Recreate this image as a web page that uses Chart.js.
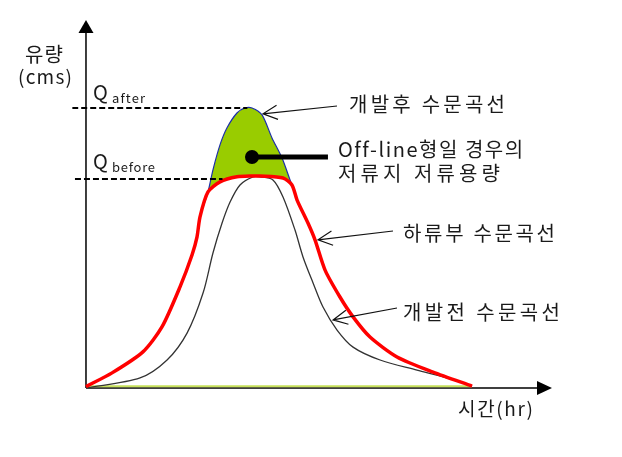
<!DOCTYPE html>
<html>
<head>
<meta charset="utf-8">
<script src="https://cdn.jsdelivr.net/npm/chart.js@4.4.0/dist/chart.umd.min.js"></script>
<style>
  html, body { margin: 0; background: #fff; }
  canvas { display: block; }
</style>
</head>
<body>
<canvas id="hydroChart" width="622" height="457"></canvas>
<script>
// 개발전 수문곡선 (before development)
const beforeT = [0, 3.92, 5.88, 7.33, 8.49, 9.21, 9.87, 10.45, 11.17, 12.11, 12.62, 13.56, 14.29, 15.16, 15.74, 16.47, 17.19, 18.21, 19.37, 21.33, 24.01, 26.19, 28];
const beforeQ = [0, 3.6, 10.0, 19.6, 33.9, 48.2, 58.9, 66.4, 72.5, 75.4, 75.4, 74.3, 68.2, 56.4, 46.8, 37.5, 28.9, 20.7, 14.6, 10.0, 6.4, 3.6, 0.7];

// 하류부 수문곡선 (downstream)
const downT = [0, 1.89, 4.13, 5.51, 6.82, 7.69, 8.05, 8.27, 8.85, 9.72, 10.95, 12.11, 12.62, 14.29, 14.94, 15.31, 16.10, 16.61, 17.34, 18.42, 19.37, 20.60, 22.56, 25.17, 28];
const downQ = [0.5, 5.4, 12.9, 21.8, 36.1, 47.5, 53.9, 61.1, 70.0, 73.6, 75.4, 75.7, 75.7, 75.0, 72.5, 67.1, 58.9, 52.9, 42.1, 32.5, 25.4, 18.2, 11.1, 5.7, 0.7];

// 개발후 수문곡선 (after development)
const afterT = [0, 1.89, 4.13, 5.51, 6.82, 7.69, 8.05, 8.27, 8.85, 9.21, 9.72, 10.23, 10.95, 11.53, 12.04, 12.77, 13.49, 14.22, 14.80, 14.94, 15.31, 16.10, 16.61, 17.34, 18.42, 19.37, 20.60, 22.56, 25.17, 28];
const afterQ = [0.5, 5.4, 12.9, 21.8, 36.1, 47.5, 53.9, 61.1, 70.0, 77.9, 86.8, 92.9, 98.2, 100, 100, 97.5, 89.3, 82.1, 74.3, 72.5, 67.1, 58.9, 52.9, 42.1, 32.5, 25.4, 18.2, 11.1, 5.7, 0.7];

const baseT = [0, 28];
const baseQ = [0.6, 0.6];

// Q_after / Q_before guide lines
const qAfter = 100;
const qBefore = 74.6;
const qAfterSpan = [-1, 11.7];
const qBeforeSpan = [-0.8, 9.9];

const fontFamily = '"Noto Sans CJK KR", "Noto Sans", sans-serif';
const textColor = "#1a1a1a";
const greenFill = "#99cc00";

const pts = (xs, ys) => xs.map((x, i) => ({ x: x, y: ys[i] }));

function fitText(ctx, text, left, mid, width, size) {
  ctx.font = size + "px " + fontFamily;
  ctx.letterSpacing = "0px";
  const w = ctx.measureText(text).width;
  const n = [...text].length;
  const sp = n > 1 ? (width - w) / (n - 1) : 0;
  ctx.letterSpacing = sp + "px";
  ctx.textBaseline = "middle";
  ctx.textAlign = "left";
  ctx.fillStyle = textColor;
  ctx.fillText(text, left, mid);
  ctx.letterSpacing = "0px";
}

function openArrow(ctx, fx, fy, tx, ty) {
  const a = Math.atan2(fy - ty, fx - tx);
  const len = 16, spread = 0.46;
  ctx.beginPath();
  ctx.moveTo(fx, fy);
  ctx.lineTo(tx, ty);
  ctx.moveTo(tx + len * Math.cos(a - spread), ty + len * Math.sin(a - spread));
  ctx.lineTo(tx, ty);
  ctx.lineTo(tx + len * Math.cos(a + spread), ty + len * Math.sin(a + spread));
  ctx.stroke();
}

const decorPlugin = {
  id: "decor",
  beforeDatasetsDraw(chart) {
    const { ctx, chartArea } = chart;
    const { x, y } = chart.scales;
    const x0 = x.getPixelForValue(0);
    const y0 = y.getPixelForValue(0);
    ctx.save();
    ctx.strokeStyle = "#000";
    ctx.fillStyle = "#000";
    ctx.lineWidth = 1.5;
    ctx.beginPath();
    ctx.moveTo(x0, y0);
    ctx.lineTo(x0, chartArea.top + 10);
    ctx.moveTo(x0, y0);
    ctx.lineTo(chartArea.right - 10, y0);
    ctx.stroke();
    // arrow heads
    ctx.beginPath();
    ctx.moveTo(x0, chartArea.top);
    ctx.lineTo(x0 - 7.5, chartArea.top + 13);
    ctx.lineTo(x0 + 7.5, chartArea.top + 13);
    ctx.closePath();
    ctx.fill();
    ctx.beginPath();
    ctx.moveTo(chartArea.right, y0);
    ctx.lineTo(chartArea.right - 15, y0 - 7);
    ctx.lineTo(chartArea.right - 15, y0 + 7);
    ctx.closePath();
    ctx.fill();
    ctx.restore();
  },
  afterDatasetsDraw(chart) {
    const { ctx } = chart;
    const { x, y } = chart.scales;
    ctx.save();

    // storage marker: dot + thick leader
    const dx = x.getPixelForValue(12.04), dy = y.getPixelForValue(82.5);
    ctx.fillStyle = "#000";
    ctx.strokeStyle = "#000";
    ctx.lineWidth = 5;
    ctx.beginPath();
    ctx.moveTo(dx, dy);
    ctx.lineTo(x.getPixelForValue(17.55), dy);
    ctx.stroke();
    ctx.beginPath();
    ctx.arc(dx, dy, 7, 0, Math.PI * 2);
    ctx.fill();

    // pointer arrows
    ctx.lineWidth = 1.2;
    ctx.strokeStyle = "#111";
    openArrow(ctx, 337, 106, x.getPixelForValue(12.84), y.getPixelForValue(97.9));
    openArrow(ctx, 393, 231, x.getPixelForValue(16.83), y.getPixelForValue(52.9));
    openArrow(ctx, 397, 308, x.getPixelForValue(17.92), y.getPixelForValue(24.3));

    // texts
    fitText(ctx, "유량", 25, 54, 38, 20);
    fitText(ctx, "(cms)", 18, 77, 54, 19);
    fitText(ctx, "Q", 93, 92, 17, 20);
    fitText(ctx, "after", 112, 98, 33, 13);
    fitText(ctx, "Q", 93, 161, 17, 20);
    fitText(ctx, "before", 112, 167, 43, 13);
    fitText(ctx, "개발후 수문곡선", 349, 104, 156, 20);
    fitText(ctx, "Off-line형일 경우의", 338, 149, 185, 20);
    fitText(ctx, "저류지 저류용량", 338, 173, 162, 20);
    fitText(ctx, "하류부 수문곡선", 403, 233, 152, 20);
    fitText(ctx, "개발전 수문곡선", 403, 312, 157, 20);
    fitText(ctx, "시간(hr)", 458, 409, 75, 19);
    ctx.restore();
  },
};

const hydroChart = new Chart(document.getElementById("hydroChart"), {
  type: "line",
  plugins: [decorPlugin],
  data: {
    datasets: [
      {
        label: "base",
        data: pts(baseT, baseQ),
        borderColor: "#c6e05a",
        borderWidth: 2,
        pointRadius: 0,
        order: 6,
      },
      {
        label: "개발후 수문곡선",
        data: pts(afterT, afterQ),
        borderColor: "#1c2fa8",
        borderWidth: 1.2,
        pointRadius: 0,
        tension: 0.25,
        fill: { target: 2 },
        backgroundColor: greenFill,
        order: 5,
      },
      {
        label: "하류부 수문곡선",
        data: pts(downT, downQ),
        borderColor: "#ff0000",
        borderWidth: 3.5,
        pointRadius: 0,
        tension: 0.25,
        order: 1,
      },
      {
        label: "개발전 수문곡선",
        data: pts(beforeT, beforeQ),
        borderColor: "#333333",
        borderWidth: 1.3,
        pointRadius: 0,
        tension: 0.3,
        order: 3,
      },
      {
        label: "Q after",
        data: pts(qAfterSpan, [qAfter, qAfter]),
        borderColor: "#000",
        borderWidth: 2,
        borderDash: [6, 3],
        pointRadius: 0,
        order: 0,
      },
      {
        label: "Q before",
        data: pts(qBeforeSpan, [qBefore, qBefore]),
        borderColor: "#000",
        borderWidth: 2,
        borderDash: [6, 3],
        pointRadius: 0,
        order: 0,
      },
    ],
  },
  options: {
    responsive: false,
    maintainAspectRatio: false,
    animation: false,
    layout: {
      padding: { left: 72.2, right: 70, top: 20, bottom: 69 },
    },
    scales: {
      x: { type: "linear", min: -1, max: 33.8, display: false },
      y: { type: "linear", min: 0, max: 131.4, display: false },
    },
    plugins: {
      legend: { display: false },
      tooltip: { enabled: false },
    },
  },
});
</script>
</body>
</html>
